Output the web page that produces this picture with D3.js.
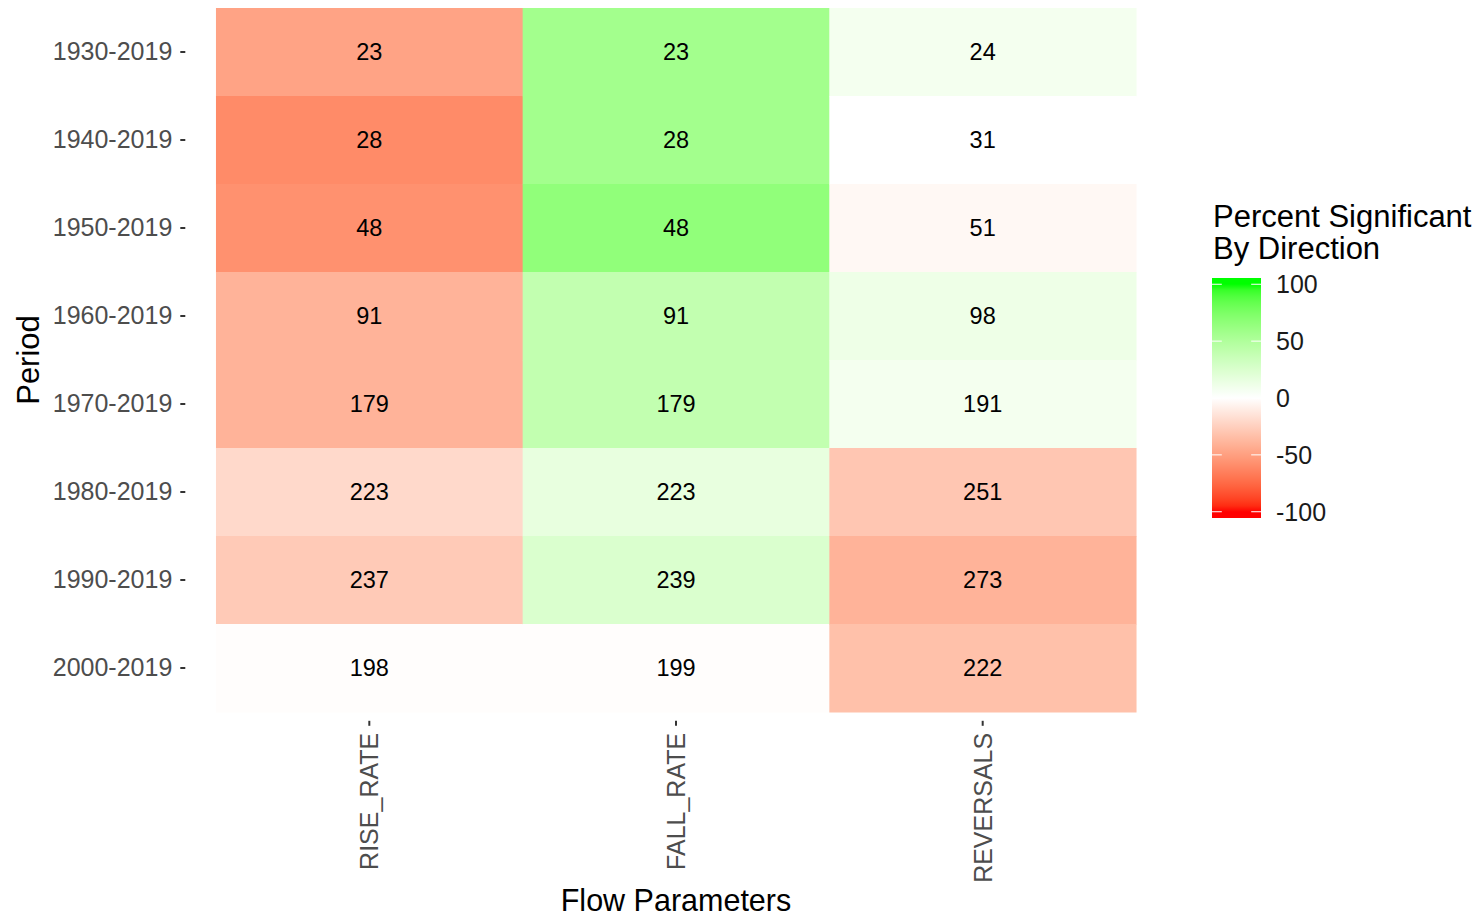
<!DOCTYPE html>
<html><head><meta charset="utf-8">
<script src="https://cdn.jsdelivr.net/npm/d3@7"></script>
<style>body{margin:0;background:#fff} text{font-family:"Liberation Sans",Arial,sans-serif}</style>
</head><body><svg id="c" width="1480" height="919"></svg>
<script>
const periods = ["1930-2019","1940-2019","1950-2019","1960-2019","1970-2019","1980-2019","1990-2019","2000-2019"];
const params = ["RISE_RATE","FALL_RATE","REVERSALS"];
const riseCounts = [23,28,48,91,179,223,237,198];
const fallCounts = [23,28,48,91,179,223,239,199];
const revCounts  = [24,31,51,98,191,251,273,222];
const risePct = [-48,-60,-57,-40,-40,-20,-28,-1];
const fallPct = [57,57,66,40,40,16,25,-1];
const revPct  = [8,0,-4,12,8,-30,-40,-33];
const legendBreaks = [100,50,0,-50,-100];

const counts = {RISE_RATE:riseCounts, FALL_RATE:fallCounts, REVERSALS:revCounts};
const pcts = {RISE_RATE:risePct, FALL_RATE:fallPct, REVERSALS:revPct};
const cells = [];
params.forEach(p => periods.forEach((per,i) => cells.push({param:p, period:per, n:counts[p][i], pct:pcts[p][i]})));

const svg = d3.select("#c");
const x = d3.scaleBand().domain(params).range([185.3,1166.7]).paddingInner(0).paddingOuter(0.1);
const y = d3.scaleBand().domain(periods).range([-0.8,720.8]).paddingInner(0).paddingOuter(0.1);
const color = d3.scaleLinear().domain([-100,0,100]).range(["#FF0000","#FFFFFF","#00FF00"]).interpolate(d3.interpolateLab).clamp(true);

svg.append("g").selectAll("rect").data(cells).join("rect")
  .attr("x", d => x(d.param)).attr("y", d => y(d.period))
  .attr("width", x.bandwidth()+0.5).attr("height", y.bandwidth()+0.5)
  .attr("fill", d => color(d.pct));

svg.append("g").selectAll("text").data(cells).join("text")
  .attr("x", d => x(d.param)+x.bandwidth()/2).attr("y", d => y(d.period)+y.bandwidth()/2)
  .attr("dy","0.36em").attr("text-anchor","middle").attr("font-size","23.5px").attr("fill","#000")
  .text(d => d.n);

const ax = svg.append("g").attr("transform","translate(185.3,0)")
  .call(d3.axisLeft(y).tickSize(5).tickPadding(8));
ax.select(".domain").remove();
ax.selectAll("line").attr("stroke","#333").attr("stroke-width",2);
ax.selectAll("text").attr("font-size","25px").attr("fill","#4D4D4D").attr("font-family","Liberation Sans, Arial, sans-serif");

const bx = svg.append("g").attr("transform","translate(0,720.8)")
  .call(d3.axisBottom(x).tickSize(5).tickPadding(7));
bx.select(".domain").remove();
bx.selectAll("line").attr("stroke","#333").attr("stroke-width",2);
bx.selectAll("text").attr("font-size","25px").attr("fill","#4D4D4D").attr("font-family","Liberation Sans, Arial, sans-serif")
  .attr("transform","rotate(-90)").attr("text-anchor","end")
  .attr("x",-12).attr("y",0).attr("dy","0.36em");

svg.append("text").attr("transform","translate(38.5,360) rotate(-90)").attr("text-anchor","middle")
  .attr("font-size","31px").attr("fill","#000").text("Period");
svg.append("text").attr("x",676).attr("y",911).attr("text-anchor","middle")
  .attr("font-size","30.5px").attr("fill","#000").text("Flow Parameters");

// legend
const lg = svg.append("g");
lg.append("text").attr("x",1213).attr("y",227).attr("font-size","31px").attr("fill","#000").text("Percent Significant");
lg.append("text").attr("x",1213).attr("y",259).attr("font-size","31px").attr("fill","#000").text("By Direction");
const yL = d3.scaleLinear().domain([-105.5,105.5]).range([518,278]);
const grad = svg.append("defs").append("linearGradient").attr("id","lgd")
  .attr("x1",0).attr("y1",1).attr("x2",0).attr("y2",0);
d3.range(0,41).forEach(i => {
  const v = -105.5 + i*211/40;
  grad.append("stop").attr("offset", (i/40)).attr("stop-color", color(v));
});
lg.append("rect").attr("x",1212).attr("y",278).attr("width",49).attr("height",240).attr("fill","url(#lgd)");
lg.selectAll("line.l").data(legendBreaks).join("line").attr("class","l")
  .attr("x1",1212).attr("x2",1221.8).attr("y1",d=>yL(d)).attr("y2",d=>yL(d)).attr("stroke","#fff").attr("stroke-width",1);
lg.selectAll("line.r").data(legendBreaks).join("line").attr("class","r")
  .attr("x1",1251.2).attr("x2",1261).attr("y1",d=>yL(d)).attr("y2",d=>yL(d)).attr("stroke","#fff").attr("stroke-width",1);
lg.selectAll("text.t").data(legendBreaks).join("text").attr("class","t")
  .attr("x",1276).attr("y",d=>yL(d)).attr("dy","0.36em").attr("font-size","25px").attr("fill","#1A1A1A")
  .text(d=>d);
</script></body></html>
